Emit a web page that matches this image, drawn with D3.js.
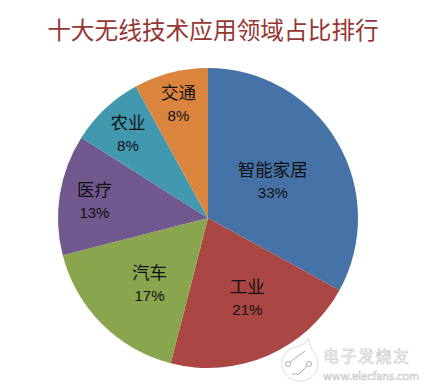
<!DOCTYPE html>
<html lang="zh">
<head>
    <meta charset="UTF-8">
    <title>十大无线技术应用领域占比排行</title>
    <style>
    html, body { margin: 0; padding: 0; background: #fff; }
    svg { display: block; }
    .title { font-family: "Noto Sans CJK SC"; font-size: 23.7px; fill: #953735; text-anchor: middle; }
    .name { font-family: "Noto Sans CJK SC"; font-size: 17.5px; fill: #111; text-anchor: middle; }
    .pct { font-family: "Liberation Sans"; font-size: 15px; fill: #111; text-anchor: middle; }
    .wm { font-family: "Noto Sans CJK SC"; fill: #f6f6f6; stroke: #c4c4c4; stroke-width: 0.5px; }
    </style>
</head>
<body>
<script src="https://cdn.jsdelivr.net/npm/d3@7"></script>
<script>
const titleText = '十大无线技术应用领域占比排行';
const categories = ['智能家居', '工业', '汽车', '医疗', '农业', '交通'];
const values = [33, 21, 17, 13, 8, 8];
const colors = ['#4673a7', '#aa4643', '#89a54e', '#71588f', '#4198af', '#db843d'];

let width = 429, height = 391;
let cx = 208, cy = 218, radius = 150;
// how far from the centre each label sits, the original does not use one ring
let labelRadius = [73, 89, 87, 115, 117, 119];
let labelNudge = [[2, 0], [4, -2], [3, 4], [0, 1], [0, 1], [0, 1]];

let svg = d3.select('body').append('svg')
    .attr('width', width)
    .attr('height', height);

svg.append('text')
    .attr('class', 'title')
    .attr('x', 213)
    .attr('y', 39)
    .text(titleText);

let pie = d3.pie().sort(null);
let arc = d3.arc().innerRadius(0).outerRadius(radius);
let color = d3.scaleOrdinal(categories, colors);

function labelPos(d, i) {
    let r = labelRadius[i];
    let c = d3.arc().innerRadius(r).outerRadius(r).centroid(d);
    return [c[0] + labelNudge[i][0], c[1] + labelNudge[i][1]];
}

let arcs = svg.selectAll('.arcGroups')
    .data(pie(values))
    .enter()
    .append('g')
    .attr('class', 'arcGroups')
    .attr('transform', `translate(${cx}, ${cy})`);

arcs.append('path')
    .attr('fill', (d, i) => color(categories[i]))
    .attr('d', arc);

arcs.append('text')
    .attr('class', 'name')
    .attr('transform', (d, i) => {
        let c = labelPos(d, i);
        return `translate(${c[0]}, ${c[1] - 5})`;
    })
    .text((d, i) => categories[i]);

arcs.append('text')
    .attr('class', 'pct')
    .attr('transform', (d, i) => {
        let c = labelPos(d, i);
        return `translate(${c[0]}, ${c[1] + 17})`;
    })
    .text(d => d.value + '%');

// watermark
let wm = svg.append('g');
wm.append('path')
    .attr('d', 'M308 338 C310 350 318 355 318 365 A18 18 0 1 1 287 351 C295 345 305 348 308 338Z')
    .attr('fill', '#fff')
    .attr('stroke', '#ddd');
wm.append('path')
    .attr('d', 'M290 362 L305 351 M307 366 L299 374 L292 374')
    .attr('fill', 'none')
    .attr('stroke', '#aaa');
wm.selectAll('circle')
    .data([288, 309])
    .enter()
    .append('circle')
    .attr('cx', d => d)
    .attr('cy', 364)
    .attr('r', 2.5)
    .attr('fill', '#fff')
    .attr('stroke', '#aaa');
wm.append('text')
    .attr('class', 'wm')
    .attr('x', 323)
    .attr('y', 362)
    .attr('font-size', 16)
    .attr('letter-spacing', 1.5)
    .text('电子发烧友');
wm.append('text')
    .attr('class', 'wm')
    .attr('x', 323)
    .attr('y', 380)
    .attr('font-size', 11)
    .text('www.elecfans.com');
</script>
</body>
</html>
